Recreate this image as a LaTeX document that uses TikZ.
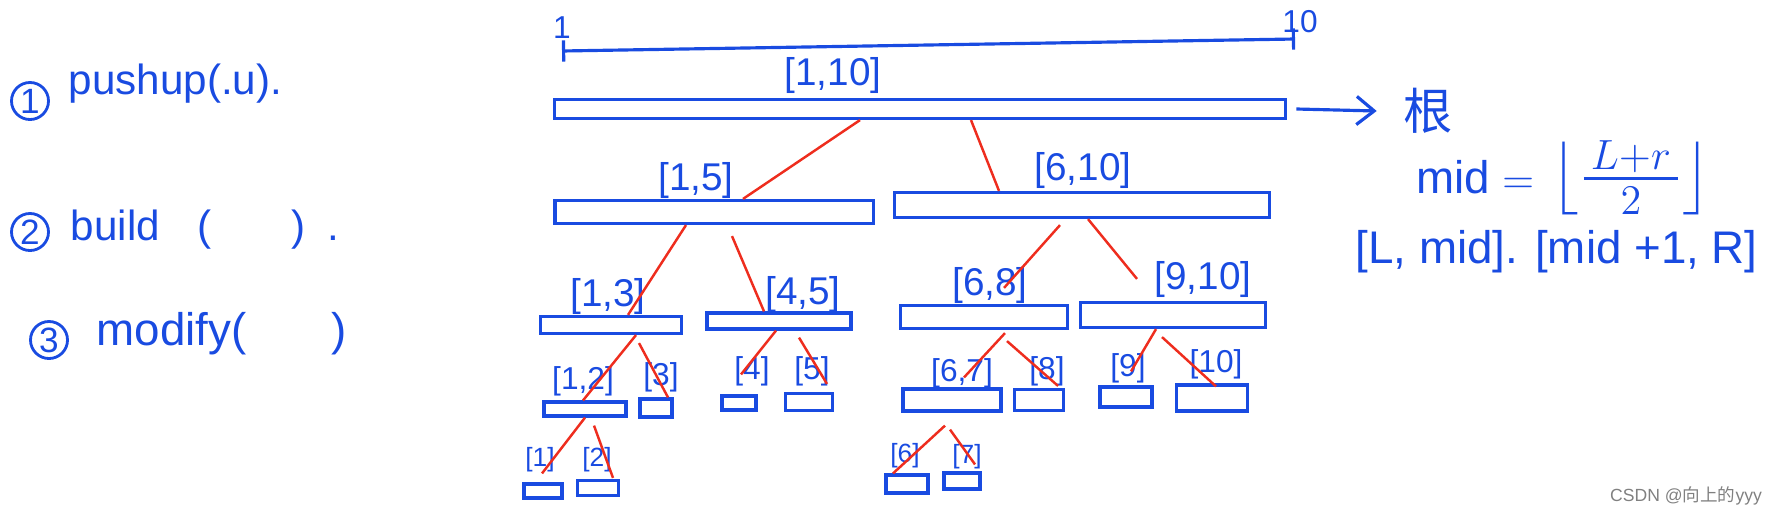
\documentclass[tikz,border=0pt]{standalone}
\usepackage{fontspec}
\usepackage{amsmath}
\setmainfont{Liberation Sans}
\newfontfamily\cjk{Noto Sans CJK SC}
\usetikzlibrary{positioning, arrows.meta, calc}
\definecolor{penblue}{RGB}{25,75,225}
\definecolor{penred}{RGB}{238,45,30}

\begin{document}
\begin{tikzpicture}[
    x=0.01cm, y=-0.01cm,
    seg/.style={draw=penblue, line width=0.9pt, inner sep=0pt},
    lbl/.style={text=penblue, inner sep=0pt, font=\fontsize{11}{11}\selectfont},
    small/.style={text=penblue, inner sep=0pt, font=\fontsize{9}{9}\selectfont},
    tiny/.style={text=penblue, inner sep=0pt, font=\fontsize{7.5}{7.5}\selectfont},
    edge/.style={draw=penred, line width=0.7pt},
    arrow/.style={-{Straight Barb[length=5pt, width=8pt]}, draw=penblue, line width=0.9pt},
    ruler/.style={{Bar[width=6pt]}-{Bar[width=6pt]}, draw=penblue, line width=0.9pt},
    num/.style={circle, draw=penblue, line width=0.8pt, text=penblue, minimum size=0.37cm, inner sep=0pt, font=\fontsize{10}{10}\selectfont},
    note/.style={text=penblue, inner sep=0pt, anchor=base west, font=\fontsize{12}{12}\selectfont}
]
\useasboundingbox (0,0) rectangle (1774,515);

% Steps
\node[num] (n1) at (30,101) {1};
\node[note] (push) at (68,94) {pushup(.u).};
\node[num] (n2) at (30,232) {2};
\node[note] (build) at (70,240) {build\hspace{0.9em}(\hspace{8mm})\hspace{0.5em}.};
\node[num] (n3) at (49,340) {3};
\node[note, font=\fontsize{13}{13}\selectfont] (modify) at (96,345) {modify(\hspace{8.5mm})};

% Whole range
\coordinate (rl) at (562,51);
\coordinate (rr) at (1295,39);
\draw[ruler] (rl) -- (rr);
\node[small, above=0.12cm of rl] (one) {1};
\node[small, above=0.05cm of rr, xshift=0.05cm] (ten) {10};

% Root
\node[seg, minimum width=7.31cm, minimum height=0.19cm] (root) at (920,109) {};
\node[lbl] (l110) at (833,75) {[1,10]};
\node[inner sep=0pt, text=penblue, font=\cjk\fontsize{14}{14}\selectfont] (gen) at (1428,111) {根};
\draw[arrow] ($(root.east)+(9,0)$) -- ($(gen.west)+(-26,0)$);

% Level 2
\node[seg, minimum width=3.18cm, minimum height=0.23cm] (b15) at (714,212) {};
\node[lbl] (l15) at (696,180) {[1,5]};
\node[seg, minimum width=3.75cm, minimum height=0.25cm] (b610) at (1082,205) {};
\node[lbl] (l610) at (1083,170) {[6,10]};

% Level 3
\node[seg, minimum width=1.41cm, minimum height=0.17cm] (b13) at (611,325) {};
\node[lbl] (l13) at (608,296) {[1,3]};
\node[seg, minimum width=1.44cm, minimum height=0.16cm] (b45) at (779,321) {};
\node[lbl] (l45) at (803,294) {[4,5]};
\node[seg, minimum width=1.67cm, minimum height=0.23cm] (b68) at (984,317) {};
\node[lbl] (l68) at (990,285) {[6,8]};
\node[seg, minimum width=1.85cm, minimum height=0.25cm] (b910) at (1173,315) {};
\node[lbl] (l910) at (1203,279) {[9,10]};

% Level 4
\node[seg, minimum width=0.82cm, minimum height=0.14cm] (b12) at (585,409) {};
\node[small] (l12) at (583,381) {[1,2]};
\node[seg, minimum width=0.32cm, minimum height=0.18cm] (b3) at (656,408) {};
\node[small] (l3) at (661,377) {[3]};
\node[seg, minimum width=0.34cm, minimum height=0.14cm] (b4) at (739,403) {};
\node[small] (l4) at (752,371) {[4]};
\node[seg, minimum width=0.47cm, minimum height=0.17cm] (b5) at (809,402) {};
\node[small] (l5) at (812,371) {[5]};
\node[seg, minimum width=0.98cm, minimum height=0.22cm] (b67) at (952,400) {};
\node[small] (l67) at (962,373) {[6,7]};
\node[seg, minimum width=0.49cm, minimum height=0.21cm] (b8) at (1039,400) {};
\node[small] (l8) at (1047,371) {[8]};
\node[seg, minimum width=0.52cm, minimum height=0.20cm] (b9) at (1126,397) {};
\node[small] (l9) at (1128,368) {[9]};
\node[seg, minimum width=0.71cm, minimum height=0.26cm] (b10) at (1212,398) {};
\node[small] (l10) at (1216,364) {[10]};

% Level 5
\node[seg, minimum width=0.38cm, minimum height=0.14cm] (b1) at (543,491) {};
\node[tiny] (l1) at (540,460) {[1]};
\node[seg, minimum width=0.41cm, minimum height=0.15cm] (b2) at (598,488) {};
\node[tiny] (l2) at (597,460) {[2]};
\node[seg, minimum width=0.42cm, minimum height=0.18cm] (b6) at (907,484) {};
\node[tiny] (l6) at (905,456) {[6]};
\node[seg, minimum width=0.36cm, minimum height=0.16cm] (b7) at (962,481) {};
\node[tiny] (l7) at (967,457) {[7]};

% Red links
\draw[edge] ($(root.south)+(-60,0)$) -- ($(b15.north)+(29,0)$);
\draw[edge] ($(root.south)+(51,0)$) -- ($(b610.north)+(-83,0)$);
\draw[edge] ($(b15.south)+(-28,0)$) -- ($(b13.north)+(17,0)$);
\draw[edge] ($(b15.south)+(18,11)$) -- ($(b45.north)+(-15,0)$);
\draw[edge] ($(b610.south)+(-22,6)$) -- ($(b68.north)+(20,-16)$);
\draw[edge] ($(b610.south)+(6,0)$) -- ($(b910.north)+(-36,-22)$);
\draw[edge] ($(b13.south)+(25,0)$) -- ($(b12.north)+(-2,0)$);
\draw[edge] ($(b13.south)+(28,8)$) -- ($(b3.north)+(12,0)$);
\draw[edge] ($(b45.south)+(-3,0)$) -- ($(b4.north)+(2,-20)$);
\draw[edge] ($(b45.south)+(20,7)$) -- ($(b5.north)+(18,-8)$);
\draw[edge] ($(b68.south)+(21,3)$) -- ($(b67.north)+(12,-10)$);
\draw[edge] ($(b68.south)+(23,11)$) -- ($(b8.north)+(19,-2)$);
\draw[edge] ($(b910.south)+(-17,0)$) -- ($(b9.north)+(5,-14)$);
\draw[edge] ($(b910.south)+(-11,8)$) -- ($(b10.north)+(4,3)$);
\draw[edge] (b12.south) -- ($(b1.north)+(-1,-9)$);
\draw[edge] ($(b12.south)+(9,8)$) -- ($(b2.north)+(15,-1)$);
\draw[edge] ($(b67.south)+(-7,13)$) -- ($(b6.north)+(-14,0)$);
\draw[edge] ($(b67.south)+(-2,17)$) -- ($(b7.north)+(13,-7)$);

% Midpoint rule
\node[text=penblue, inner sep=0pt, anchor=west, font=\fontsize{17}{17}\selectfont] (midf) at (1416,178)
    {{\fontsize{13}{13}\selectfont$\mathrm{mid} =$} $\left\lfloor\frac{\,L+r\,}{2}\right\rfloor$};
\node[text=penblue, inner sep=0pt, anchor=west, font=\fontsize{13}{13}\selectfont] (halves) at (1355,252)
    {[L, mid]. [mid +1, R]};

% Watermark
\node[text=gray, inner sep=0pt, font=\fontsize{5}{5}\selectfont] (mark) at (1686,496) {CSDN @{\cjk 向上的}yyy};
\end{tikzpicture}
\end{document}
